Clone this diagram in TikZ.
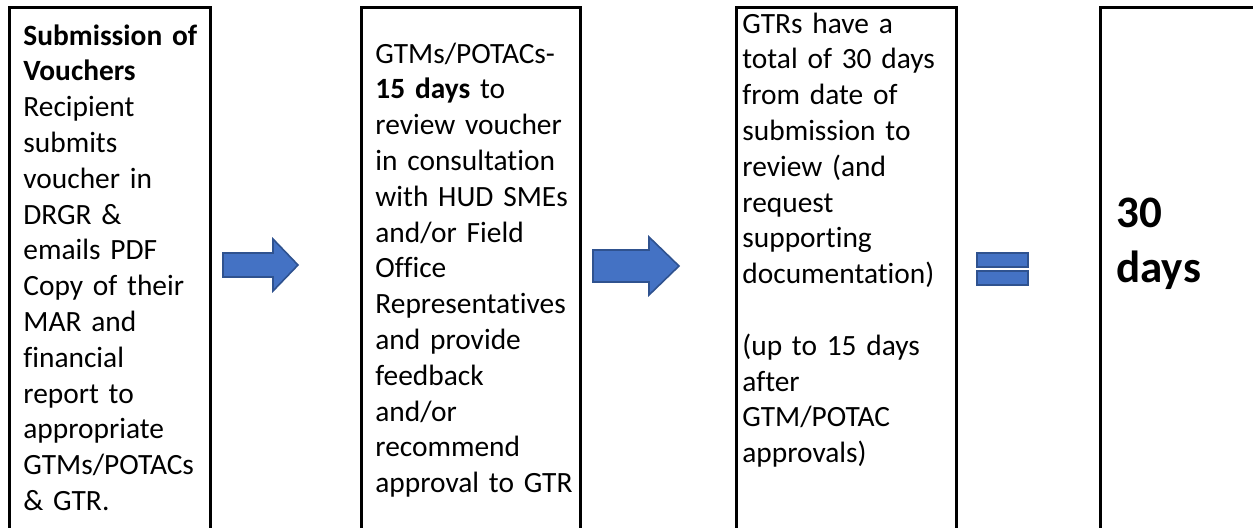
\documentclass[tikz,border=0pt]{standalone}
\usepackage{fontspec}
\setmainfont{Carlito}[Ligatures=NoCommon]
\definecolor{arrowblue}{HTML}{4472C4}
\definecolor{arrowedge}{HTML}{2F528F}

\begin{document}
\begin{tikzpicture}[x=0.5pt, y=-0.5pt,
        cell/.style={
            draw=black,
            line width=1.5pt
        },
        celltext/.style={
            anchor=base west,
            inner sep=0pt,
            text width=150pt,
            align=left,
            font=\fontsize{14.7}{17.9}\selectfont
        },
        blockshape/.style={
            fill=arrowblue,
            draw=arrowedge,
            line width=0.8pt
        }
    ]
        \useasboundingbox (0,0) rectangle (1253,527);
        \clip (0,0) rectangle (1253,527);

        % Celle della tabella (aperte in basso)
        \foreach \xa/\xb in {9/210, 361.3/580.7, 736.3/956.3, 1100.3/1290} {
            \draw[cell] (\xa,560) -- (\xa,7.5) -- (\xb,7.5) -- (\xb,560);
        }

        % Testi
        \node[celltext] (submit) at (23,45) {\textbf{Submission of}\\ \textbf{Vouchers}\\ Recipient\\ submits\\ voucher in\\ DRGR \&\\ emails PDF\\ Copy of their\\ MAR and\\ financial\\ report to\\ appropriate\\ GTMs/POTACs\\ \& GTR.};
        \node[celltext] (review) at (375,63) {GTMs/POTACs-\\ \textbf{15 days} to\\ review voucher\\ in consultation\\ with HUD SMEs\\ and/or Field\\ Office\\ Representatives\\ and provide\\ feedback\\ and/or\\ recommend\\ approval to GTR};
        \node[celltext] (gtr) at (742,33) {GTRs have a\\ total of 30 days\\ from date of\\ submission to\\ review (and\\ request\\ supporting\\ documentation)\\[17.9pt] (up to 15 days\\ after\\ GTM/POTAC\\ approvals)};
        \node[celltext, font=\fontsize{22.5}{27.5}\selectfont\bfseries] (total) at (1116,227) {30\\ days};

        % Frecce a blocco
        \foreach \xa/\xb/\xc/\ym/\hs/\hh in {223/273/298/265/12/26, 593/649/679/266/16/29} {
            \draw[blockshape] (\xa,\ym-\hs) -- (\xb,\ym-\hs) -- (\xb,\ym-\hh) -- (\xc,\ym)
                -- (\xb,\ym+\hh) -- (\xb,\ym+\hs) -- (\xa,\ym+\hs) -- cycle;
        }

        % Segno di uguale
        \foreach \y in {253, 271} {
            \draw[blockshape] (977,\y) rectangle (1028,\y+14);
        }
    \end{tikzpicture}
\end{document}
